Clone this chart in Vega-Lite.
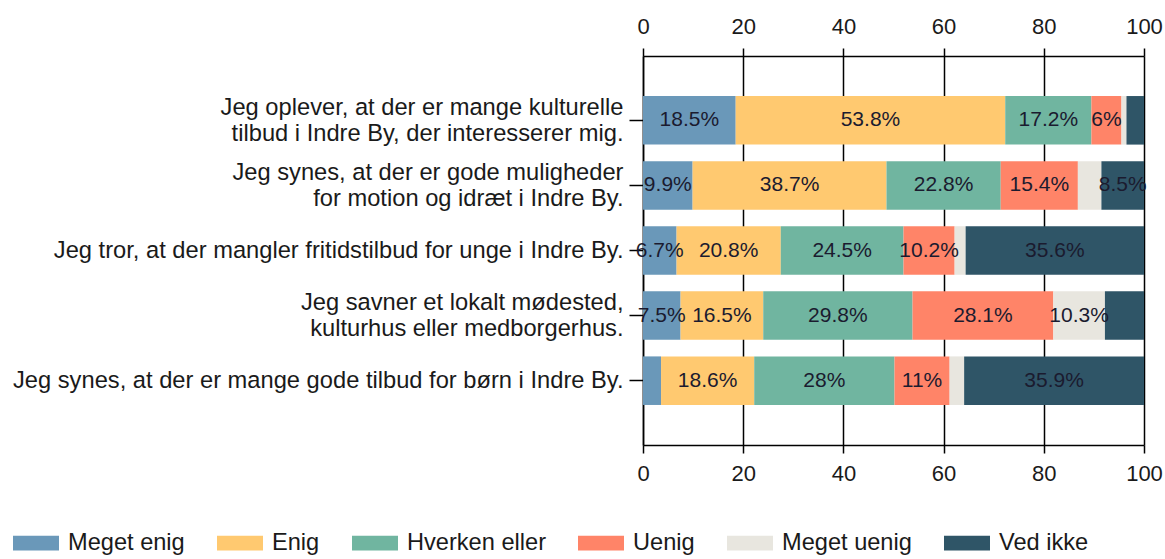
{
  "$schema": "https://vega.github.io/schema/vega-lite/v6.json",
  "width": 501,
  "height": 389,
  "autosize": {"type": "none"},
  "padding": {"left": 643, "top": 56, "right": 21, "bottom": 114},
  "background": "white",
  "config": {"view": {"stroke": null}, "font": "Liberation Sans"},
  "data": {
    "values": [
      {"q": "Jeg oplever, at der er mange kulturelle\ntilbud i Indre By, der interesserer mig.", "svar": "Meget enig", "pct": 18.5, "label": "18.5%"},
      {"q": "Jeg oplever, at der er mange kulturelle\ntilbud i Indre By, der interesserer mig.", "svar": "Enig", "pct": 53.8, "label": "53.8%"},
      {"q": "Jeg oplever, at der er mange kulturelle\ntilbud i Indre By, der interesserer mig.", "svar": "Hverken eller", "pct": 17.2, "label": "17.2%"},
      {"q": "Jeg oplever, at der er mange kulturelle\ntilbud i Indre By, der interesserer mig.", "svar": "Uenig", "pct": 6.0, "label": "6%"},
      {"q": "Jeg oplever, at der er mange kulturelle\ntilbud i Indre By, der interesserer mig.", "svar": "Meget uenig", "pct": 1.0, "label": ""},
      {"q": "Jeg oplever, at der er mange kulturelle\ntilbud i Indre By, der interesserer mig.", "svar": "Ved ikke", "pct": 3.5, "label": ""},
      {"q": "Jeg synes, at der er gode muligheder\nfor motion og idræt i Indre By.", "svar": "Meget enig", "pct": 9.9, "label": "9.9%"},
      {"q": "Jeg synes, at der er gode muligheder\nfor motion og idræt i Indre By.", "svar": "Enig", "pct": 38.7, "label": "38.7%"},
      {"q": "Jeg synes, at der er gode muligheder\nfor motion og idræt i Indre By.", "svar": "Hverken eller", "pct": 22.8, "label": "22.8%"},
      {"q": "Jeg synes, at der er gode muligheder\nfor motion og idræt i Indre By.", "svar": "Uenig", "pct": 15.4, "label": "15.4%"},
      {"q": "Jeg synes, at der er gode muligheder\nfor motion og idræt i Indre By.", "svar": "Meget uenig", "pct": 4.7, "label": ""},
      {"q": "Jeg synes, at der er gode muligheder\nfor motion og idræt i Indre By.", "svar": "Ved ikke", "pct": 8.5, "label": "8.5%"},
      {"q": "Jeg tror, at der mangler fritidstilbud for unge i Indre By.", "svar": "Meget enig", "pct": 6.7, "label": "6.7%"},
      {"q": "Jeg tror, at der mangler fritidstilbud for unge i Indre By.", "svar": "Enig", "pct": 20.8, "label": "20.8%"},
      {"q": "Jeg tror, at der mangler fritidstilbud for unge i Indre By.", "svar": "Hverken eller", "pct": 24.5, "label": "24.5%"},
      {"q": "Jeg tror, at der mangler fritidstilbud for unge i Indre By.", "svar": "Uenig", "pct": 10.2, "label": "10.2%"},
      {"q": "Jeg tror, at der mangler fritidstilbud for unge i Indre By.", "svar": "Meget uenig", "pct": 2.2, "label": ""},
      {"q": "Jeg tror, at der mangler fritidstilbud for unge i Indre By.", "svar": "Ved ikke", "pct": 35.6, "label": "35.6%"},
      {"q": "Jeg savner et lokalt mødested,\nkulturhus eller medborgerhus.", "svar": "Meget enig", "pct": 7.5, "label": "7.5%"},
      {"q": "Jeg savner et lokalt mødested,\nkulturhus eller medborgerhus.", "svar": "Enig", "pct": 16.5, "label": "16.5%"},
      {"q": "Jeg savner et lokalt mødested,\nkulturhus eller medborgerhus.", "svar": "Hverken eller", "pct": 29.8, "label": "29.8%"},
      {"q": "Jeg savner et lokalt mødested,\nkulturhus eller medborgerhus.", "svar": "Uenig", "pct": 28.1, "label": "28.1%"},
      {"q": "Jeg savner et lokalt mødested,\nkulturhus eller medborgerhus.", "svar": "Meget uenig", "pct": 10.3, "label": "10.3%"},
      {"q": "Jeg savner et lokalt mødested,\nkulturhus eller medborgerhus.", "svar": "Ved ikke", "pct": 7.8, "label": ""},
      {"q": "Jeg synes, at der er mange gode tilbud for børn i Indre By.", "svar": "Meget enig", "pct": 3.6, "label": ""},
      {"q": "Jeg synes, at der er mange gode tilbud for børn i Indre By.", "svar": "Enig", "pct": 18.6, "label": "18.6%"},
      {"q": "Jeg synes, at der er mange gode tilbud for børn i Indre By.", "svar": "Hverken eller", "pct": 28, "label": "28%"},
      {"q": "Jeg synes, at der er mange gode tilbud for børn i Indre By.", "svar": "Uenig", "pct": 11, "label": "11%"},
      {"q": "Jeg synes, at der er mange gode tilbud for børn i Indre By.", "svar": "Meget uenig", "pct": 2.9, "label": ""},
      {"q": "Jeg synes, at der er mange gode tilbud for børn i Indre By.", "svar": "Ved ikke", "pct": 35.9, "label": "35.9%"}
    ]
  },
  "transform": [
    {"calculate": "indexof(['Meget enig','Enig','Hverken eller','Uenig','Meget uenig','Ved ikke'], datum.svar)", "as": "rank"},
    {"stack": "pct", "groupby": ["q"], "sort": [{"field": "rank", "order": "ascending"}], "as": ["x0", "x1"]},
    {"calculate": "(datum.x0 + datum.x1) / 2", "as": "xmid"}
  ],
  "layer": [
    {
      "mark": {"type": "bar"},
      "encoding": {
        "y": {
          "field": "q", "type": "nominal",
          "sort": [
            "Jeg oplever, at der er mange kulturelle\ntilbud i Indre By, der interesserer mig.",
            "Jeg synes, at der er gode muligheder\nfor motion og idræt i Indre By.",
            "Jeg tror, at der mangler fritidstilbud for unge i Indre By.",
            "Jeg savner et lokalt mødested,\nkulturhus eller medborgerhus.",
            "Jeg synes, at der er mange gode tilbud for børn i Indre By."
          ],
          "scale": {"paddingInner": 0.254, "paddingOuter": 0.615},
          "axis": {
            "title": null, "orient": "left",
            "labelExpr": "split(datum.label, '\\n')",
            "labelFontSize": 23.7, "labelColor": "#1a1a1a", "labelLineHeight": 26,
            "labelOffset": {"condition": {"test": "indexof(datum.value, '\\n') >= 0", "value": -12.5}, "value": 0},
            "labelPadding": 6, "labelLimit": 700,
            "domainColor": "black", "domainWidth": 1.5,
            "tickColor": "black", "tickWidth": 1.5, "tickSize": 14
          }
        },
        "x": {
          "field": "x0", "type": "quantitative",
          "scale": {"domain": [0, 100], "nice": false},
          "axis": {
            "title": null, "orient": "bottom", "values": [0, 20, 40, 60, 80, 100],
            "labelFontSize": 22, "labelColor": "#1a1a1a", "labelPadding": 10, "labelFlush": false,
            "domainColor": "black", "domainWidth": 1.5,
            "tickColor": "black", "tickWidth": 1.5, "tickSize": 8,
            "grid": true, "gridColor": "black", "gridWidth": 1.5, "gridOpacity": 1
          }
        },
        "x2": {"field": "x1"},
        "color": {
          "field": "svar", "type": "nominal",
          "scale": {
            "domain": ["Meget enig", "Enig", "Hverken eller", "Uenig", "Meget uenig", "Ved ikke"],
            "range": ["#6a98b9", "#ffc970", "#70b5a0", "#ff8468", "#e8e6df", "#2f5567"]
          },
          "legend": {
            "title": null, "orient": "none", "legendX": -630, "legendY": 464,
            "direction": "horizontal", "padding": 0,
            "symbolType": "M-1,-0.32H1V0.32H-1Z", "symbolSize": 2116, "symbolStrokeWidth": 0, "symbolOpacity": 1,
            "labelFontSize": 23.6, "labelColor": "#1a1a1a", "labelOffset": 9, "columnPadding": 32
          }
        }
      }
    },
    {
      "mark": {"type": "text", "fontSize": 21, "color": "#1b1b2f", "align": "center", "baseline": "middle"},
      "transform": [{"filter": "datum.label != ''"}],
      "encoding": {
        "y": {
          "field": "q", "type": "nominal",
          "sort": [
            "Jeg oplever, at der er mange kulturelle\ntilbud i Indre By, der interesserer mig.",
            "Jeg synes, at der er gode muligheder\nfor motion og idræt i Indre By.",
            "Jeg tror, at der mangler fritidstilbud for unge i Indre By.",
            "Jeg savner et lokalt mødested,\nkulturhus eller medborgerhus.",
            "Jeg synes, at der er mange gode tilbud for børn i Indre By."
          ]
        },
        "x": {
          "field": "xmid", "type": "quantitative",
          "axis": {
            "title": null, "orient": "top", "values": [0, 20, 40, 60, 80, 100],
            "labelFontSize": 22, "labelColor": "#1a1a1a", "labelPadding": 10, "labelFlush": false,
            "domainColor": "black", "domainWidth": 1.5,
            "tickColor": "black", "tickWidth": 1.5, "tickSize": 8,
            "grid": false
          }
        },
        "text": {"field": "label"}
      }
    }
  ],
  "resolve": {"axis": {"x": "independent"}}
}
